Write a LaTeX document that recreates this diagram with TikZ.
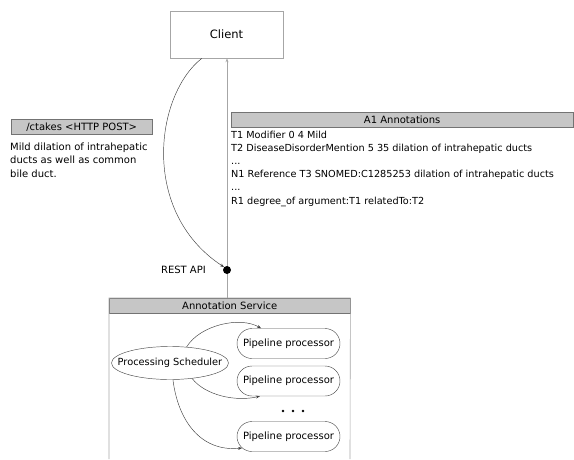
\documentclass[tikz,border=0pt]{standalone}
\usepackage{fontspec}
\setmainfont{DejaVu Sans}
\usetikzlibrary{arrows.meta,shapes.geometric,shapes.misc,backgrounds}

\tikzset{
  txt/.style={font=\fontsize{10}{13}\selectfont, inner sep=0pt},
  anntxt/.style={font=\fontsize{9.7}{13}\selectfont, inner sep=0pt, anchor=base west},
  header/.style={draw=gray!90!black, fill=gray!45, inner sep=0pt, minimum height=15pt,
    anchor=north west, font=\fontsize{10}{12}\selectfont},
  frame/.style={draw=gray!70, line width=0.8pt},
  link/.style={draw=black!75, line width=0.45pt, -{Stealth[length=4pt,width=3pt]}},
  pipe/.style={rounded rectangle, draw=black!70, line width=0.45pt, minimum width=103pt,
    minimum height=30pt, inner sep=0pt},
  dotmark/.style={circle, fill=black, inner sep=0pt, minimum size=2.6pt}
}

\begin{document}
\begin{tikzpicture}[x=1pt,y=-1pt]
\useasboundingbox (0,0) rectangle (574,459);

% client box and the REST endpoint
\node[draw=gray!70, line width=0.6pt, minimum width=113pt, minimum height=47pt, inner sep=0pt,
  font=\fontsize{11.5}{14}\selectfont] (client) at (226.5,34.5) {Client};
\node[circle, fill=black, inner sep=0pt, minimum size=8pt] (api) at (227,270) {};
\node[txt, anchor=east] (restlbl) at (206,270) {REST API};

% request payload
\node[header, minimum width=141pt] (posthead) at (11,119) {/ctakes <HTTP POST>};
\node[txt, anchor=base west] (req1) at (10,150) {Mild dilation of intrahepatic};
\node[txt, anchor=base west] (req2) at (10,163.5) {ducts as well as common};
\node[txt, anchor=base west] (req3) at (10,177) {bile duct.};

% returned annotations
\node[header, minimum width=342pt] (a1head) at (231,112) {A1 Annotations};
\node[anntxt] (ann1) at (231,138) {T1 Modifier 0 4 Mild};
\node[anntxt] (ann2) at (231,151.2) {T2 DiseaseDisorderMention 5 35 dilation of intrahepatic ducts};
\node[anntxt] (ann3) at (231,164.4) {...};
\node[anntxt] (ann4) at (231,177.6) {N1 Reference T3 SNOMED:C1285253 dilation of intrahepatic ducts};
\node[anntxt] (ann5) at (231,190.8) {...};
\node[anntxt] (ann6) at (231,204) {R1 degree\_of argument:T1 relatedTo:T2};

% annotation service
\node[header, minimum width=241pt] (svchead) at (109,298) {Annotation Service};
\coordinate (svcbl) at (109,459);
\coordinate (svcbr) at (350,459);
\draw[draw=gray!70, line width=0.6pt] (svcbl) -- (svchead.north west) -- (svchead.north east) -- (svcbr);

\node[ellipse, draw=black!70, line width=0.45pt, minimum width=117pt, minimum height=33pt,
  inner sep=0pt] (sched) at (170,363) {};
\node[txt, font=\fontsize{9.8}{12}\selectfont] (schedtxt) at (sched.center) {Processing Scheduler};
\node[pipe] (pipe1) at (288.5,343.5) {};
\node[pipe] (pipe2) at (288.5,381) {};
\node[pipe] (pipe3) at (288.5,436.5) {};
\node[txt] (pipe1txt) at (pipe1.center) {Pipeline processor};
\node[txt] (pipe2txt) at (pipe2.center) {Pipeline processor};
\node[txt] (pipe3txt) at (pipe3.center) {Pipeline processor};
\node[dotmark] (dot1) at (283,411) {};
\node[dotmark] (dot2) at (293,411) {};
\node[dotmark] (dot3) at (303,411) {};

% connectors
\begin{scope}[on background layer]
\draw[frame, -{Stealth[length=4pt,width=3pt]}] (api.center) -- (api |- client.south);
\draw[frame] (api.center) -- (api |- svchead.north);
\end{scope}
\draw[link] (client.224) .. controls (155,95) and (140,212) .. (api.135);
\draw[link] (sched.44) .. controls (200,325) and (240,316) .. (pipe1.151);
\draw[link] (sched.-35) .. controls (205,395) and (235,402) .. (pipe2.208);
\draw[link] (sched.-80) .. controls (178,420) and (200,452) .. (pipe3.194);
\end{tikzpicture}
\end{document}
